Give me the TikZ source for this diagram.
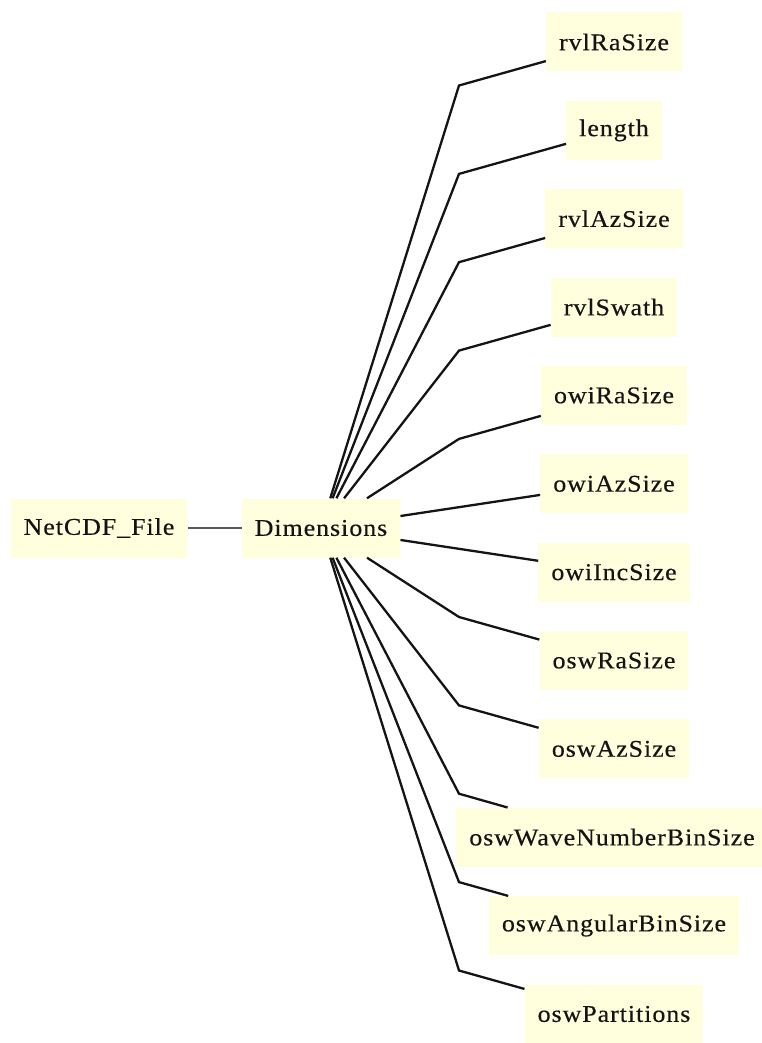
\documentclass[tikz,border=0pt]{standalone}
\usepackage{fontspec}
\setmainfont{Liberation Serif}[FakeStretch=1.08,LetterSpace=4,FakeBold=0.4]
\definecolor{boxfill}{RGB}{255,255,222}
\definecolor{inkcol}{RGB}{20,20,20}
\begin{document}
\begin{tikzpicture}[x=1pt,y=-1pt,
  box/.style={fill=boxfill, inner xsep=13pt, inner ysep=0pt, minimum height=59pt,
              font=\fontsize{24}{28}\selectfont, text=inkcol},
  link/.style={line width=2.3pt, inkcol},
  thinlink/.style={line width=1.3pt, black!65}]
\useasboundingbox (0,0) rectangle (761,1043);
\node[box, minimum width=164pt] (net) at (99,528) {NetCDF\_File};
\node[box, minimum width=158pt] (dim) at (321,528) {Dimensions};
\draw[thinlink] (net) -- (dim);

\node[box] (rvlRa)   at (614,42)    {rvlRaSize};
\node[box] (len)     at (614,130.4) {length};
\node[box] (rvlAz)   at (614,218.7) {rvlAzSize};
\node[box] (rvlSw)   at (614,307.1) {rvlSwath};
\node[box] (owiRa)   at (614,395.4) {owiRaSize};
\node[box] (owiAz)   at (614,483.8) {owiAzSize};
\node[box] (owiInc)  at (614,572.2) {owiIncSize};
\node[box] (oswRa)   at (614,660.5) {oswRaSize};
\node[box] (oswAz)   at (614,748.9) {oswAzSize};
\node[box] (oswWave) at (612,837.2) {oswWaveNumberBinSize};
\node[box] (oswAng)  at (614,925.6) {oswAngularBinSize};
\node[box] (oswPart) at (614,1014)  {oswPartitions};

\coordinate (e0)  at (459,85.5);
\coordinate (e1)  at (459,173.9);
\coordinate (e2)  at (459,262.2);
\coordinate (e3)  at (459,350.6);
\coordinate (e4)  at (459,438.9);
\coordinate (e7)  at (459,617);
\coordinate (e8)  at (459,705.4);
\coordinate (e9)  at (459,793.7);
\coordinate (e10) at (459,882.1);
\coordinate (e11) at (459,970.5);

\draw[link] (dim) -- (e0) -- (rvlRa);
\draw[link] (dim) -- (e1) -- (len);
\draw[link] (dim) -- (e2) -- (rvlAz);
\draw[link] (dim) -- (e3) -- (rvlSw);
\draw[link] (dim) -- (e4) -- (owiRa);
\draw[link] (dim) -- (owiAz);
\draw[link] (dim) -- (owiInc);
\draw[link] (dim) -- (e7) -- (oswRa);
\draw[link] (dim) -- (e8) -- (oswAz);
\draw[link] (dim) -- (e9) -- (oswWave);
\draw[link] (dim) -- (e10) -- (oswAng);
\draw[link] (dim) -- (e11) -- (oswPart);
\end{tikzpicture}
\end{document}
